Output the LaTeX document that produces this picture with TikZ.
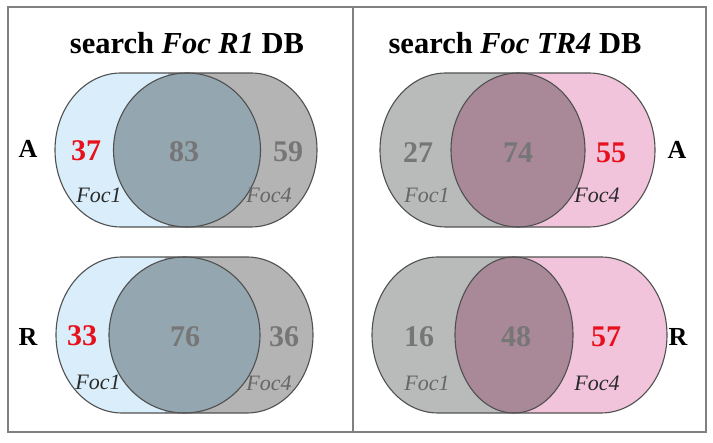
\documentclass[tikz,border=0pt]{standalone}
\usepackage{fontspec}
\setmainfont{Liberation Serif}
\definecolor{lblue}{HTML}{D9EEFA}
\definecolor{rgray}{HTML}{B4B4B4}
\definecolor{mblue}{HTML}{94A6AF}
\definecolor{lgray}{HTML}{B8BBB9}
\definecolor{rpink}{HTML}{F2C4DC}
\definecolor{mmauve}{HTML}{A98898}
\definecolor{numgray}{HTML}{767676}
\definecolor{numred}{HTML}{E8101C}
\definecolor{linegray}{HTML}{505050}
\definecolor{framegray}{HTML}{808080}
\definecolor{darktxt}{HTML}{2A2A2A}
\definecolor{midtxt}{HTML}{666666}
\tikzset{
  num/.style={font=\fontsize{30}{30}\selectfont\bfseries, text=numgray, inner sep=0pt},
  rednum/.style={num, text=numred},
  setdark/.style={font=\fontsize{22}{22}\selectfont\itshape, text=darktxt, inner sep=0pt},
  setmid/.style={font=\fontsize{22}{22}\selectfont\itshape, text=midtxt, inner sep=0pt},
  rowlbl/.style={font=\fontsize{26}{26}\selectfont\bfseries, inner sep=0pt},
  ttl/.style={font=\fontsize{30.5}{30.5}\selectfont\bfseries, inner sep=0pt},
  outline/.style={draw=linegray, line width=1.1pt},
  frame/.style={draw=framegray, line width=1.5pt},
}
% outer capsule: #1 left x, #2 right x, #3 top y, #4 bottom y (y downwards, given positive)
\newcommand\capsulepath[4]{(#1+66,-#3) -- (#2-66,-#3) arc[start angle=90,end angle=-90,x radius=66pt,y radius={(#4-#3)/2*1pt}] -- (#1+66,-#4) arc[start angle=270,end angle=90,x radius=66pt,y radius={(#4-#3)/2*1pt}] -- cycle}
\begin{document}
\begin{tikzpicture}[x=1pt,y=1pt]
\useasboundingbox (0,0) rectangle (713,-443);
\fill[white] (0,0) rectangle (713,-443);
% frame
\draw[frame] (8,-7) rectangle (706,-432);
\draw[frame] (353,-7) -- (353,-432);

% ---- V1: R1, A ----
\begin{scope}
  \clip \capsulepath{55}{317}{73}{227};
  \fill[lblue] (55,-73) rectangle (168,-227);
  \fill[rgray] (168,-73) rectangle (317,-227);
\end{scope}
\fill[mblue] (187,-150) ellipse [x radius=73.5pt, y radius=77pt];
\draw[outline] \capsulepath{55}{317}{73}{227};
\draw[outline] (187,-150) ellipse [x radius=73.5pt, y radius=77pt];

% ---- V2: TR4, A ----
\begin{scope}
  \clip \capsulepath{380}{655}{73}{227};
  \fill[lgray] (380,-73) rectangle (520,-227);
  \fill[rpink] (520,-73) rectangle (655,-227);
\end{scope}
\fill[mmauve] (518,-150) ellipse [x radius=67pt, y radius=77pt];
\draw[outline] \capsulepath{380}{655}{73}{227};
\draw[outline] (518,-150) ellipse [x radius=67pt, y radius=77pt];

% ---- V3: R1, R ----
\begin{scope}
  \clip \capsulepath{56}{313}{257}{413};
  \fill[lblue] (56,-257) rectangle (165,-413);
  \fill[rgray] (165,-257) rectangle (313,-413);
\end{scope}
\fill[mblue] (184.5,-335) ellipse [x radius=75.5pt, y radius=78pt];
\draw[outline] \capsulepath{56}{313}{257}{413};
\draw[outline] (184.5,-335) ellipse [x radius=75.5pt, y radius=78pt];

% ---- V4: TR4, R ----
\begin{scope}
  \clip \capsulepath{372}{667}{257}{413};
  \fill[lgray] (372,-257) rectangle (516,-413);
  \fill[rpink] (516,-257) rectangle (667,-413);
\end{scope}
\fill[mmauve] (514,-335) ellipse [x radius=59pt, y radius=78pt];
\draw[outline] \capsulepath{372}{667}{257}{413};
\draw[outline] (514,-335) ellipse [x radius=59pt, y radius=78pt];

% titles
\node[ttl] (t1) at (187,-43.5) {search \textit{Foc R1} DB};
\node[ttl] (t2) at (515,-43.5) {search \textit{Foc TR4} DB};
% row labels
\node[rowlbl] (a1) at (28,-149) {A};
\node[rowlbl] (a2) at (677,-150) {A};
\node[rowlbl] (r1) at (28,-337) {R};
\node[rowlbl] (r2) at (678,-337) {R};
% V1 texts
\node[rednum] (n37) at (86,-151) {37};
\node[num] (n83) at (184,-152) {83};
\node[num] (n59) at (288,-152) {59};
\node[setdark] (f11) at (99,-195) {Foc1};
\node[setmid] (f14) at (269,-195) {Foc4};
% V2 texts
\node[num] (n27) at (418,-153) {27};
\node[num] (n74) at (518,-153) {74};
\node[rednum] (n55) at (611,-153) {55};
\node[setmid] (f21) at (427,-195) {Foc1};
\node[setdark] (f24) at (597,-195) {Foc4};
% V3 texts
\node[rednum] (n33) at (82,-336) {33};
\node[num] (n76) at (185,-337) {76};
\node[num] (n36) at (284,-337) {36};
\node[setdark] (f31) at (98,-382) {Foc1};
\node[setmid] (f34) at (269,-383) {Foc4};
% V4 texts
\node[num] (n16) at (419,-337) {16};
\node[num] (n48) at (516,-337) {48};
\node[rednum] (n57) at (606,-337) {57};
\node[setmid] (f41) at (427,-383) {Foc1};
\node[setdark] (f44) at (597,-383) {Foc4};
\end{tikzpicture}
\end{document}
